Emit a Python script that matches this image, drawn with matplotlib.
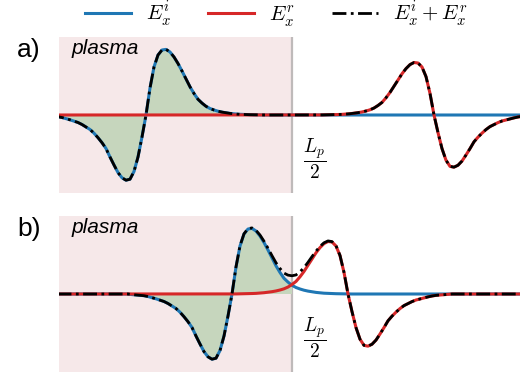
import matplotlib
matplotlib.use("Agg")
import matplotlib.pyplot as plt
import numpy as np

plt.rcParams['font.family'] = ['Liberation Sans', 'DejaVu Sans']
plt.rcParams['mathtext.fontset'] = 'cm'

# pulse profile read off panel a), sampled every 4 units from its zero crossing
pulse_step = 4
pulse_offset = np.arange(-100, 117, pulse_step)
pulse_value = [-0.6, -0.9, -1.3, -1.7, -2.5, -3.6, -4.8, -6.2, -7.5, -9.5,
               -12.0, -14.5, -18.2, -22.7, -27.7, -33.5, -42.0, -50.0, -57.6, -62.8,
               -65.2, -64.2, -56.5, -42.0, -22.0, 0.0, 27.0, 48.0, 60.0, 65.0,
               65.6, 63.0, 58.0, 51.5, 44.0, 36.0, 28.2, 21.5, 15.7, 11.9,
               8.7, 6.5, 5.0, 3.8, 2.9, 2.2, 1.6, 1.2, 0.8, 0.6,
               0.4, 0.3, 0.2, 0.1, 0.0]

mirror_pos = 290        # plasma edge L_p/2, where the pulse is reflected
plasma_edge = 292
x_left, x_right = 59, 520
refl_coef = 0.8         # reflected pulse is a bit weaker
panel_labels = ['a)', 'b)']
incident_pos = [146, 232]   # zero crossing of the incident pulse in each panel

c_inc = '#1f77b4'
c_ref = '#d62728'
c_plasma = '#f6e8e9'
c_fill = '#c6d6bd'
c_edge = '#bfbaba'

profile = dict(zip(pulse_offset.tolist(), pulse_value))


def pulse(offsets):
    return np.array([profile.get(int(o), 0.0) for o in offsets])


fig = plt.figure(figsize=(5.31, 3.82), dpi=100)
W, H = 531, 382
ax_top = [37, 216]

for label, x0, top in zip(panel_labels, incident_pos, ax_top):
    ax = fig.add_axes([x_left / W, 1 - (top + 156) / H, (x_right - x_left) / W, 156 / H])
    x = np.arange(x0 - 200, x0 + 400, pulse_step)
    e_inc = pulse(x - x0)
    e_ref = refl_coef * pulse((2 * mirror_pos - x0) - x)
    e_tot = e_inc + e_ref

    span = ax.axvspan(x_left, plasma_edge, color=c_plasma, lw=0, zorder=0)
    ax.axvline(plasma_edge, color=c_edge, lw=1.6, zorder=1)
    fill = ax.fill_between(x, 0, e_inc, color=c_fill, lw=0, zorder=1)
    fill.set_clip_path(span)

    ax.plot(x, e_inc, color=c_inc, lw=2.2, zorder=2, label=r'$E_x^i$')
    ax.plot(x, e_ref, color=c_ref, lw=2.2, zorder=3, label=r'$E_x^r$')
    ax.plot(x, e_tot, color='black', lw=2.0, ls=(0, (5, 1.6, 1, 1.6)), zorder=4,
            label=r'$E_x^i + E_x^r$')

    ax.text(72, 67, 'plasma', style='italic', fontsize=15, va='center', ha='left')
    ax.text(315, -44, r'$\dfrac{L_p}{2}$', fontsize=14, ha='center', va='center')
    fig.text(17 / W, 1 - (top + 13) / H, label, fontsize=19, va='center', ha='left')

    ax.set_xlim(x_left, x_right)
    ax.set_ylim(-78, 78)
    ax.axis('off')

handles, labels = ax.get_legend_handles_labels()
fig.legend(handles, labels, loc='center', bbox_to_anchor=(0.52, 0.962), ncol=3,
           frameon=False, fontsize=15, handlelength=2.2, handletextpad=0.7,
           columnspacing=1.8, borderpad=0.2)

fig.savefig('out.png', dpi=100)
